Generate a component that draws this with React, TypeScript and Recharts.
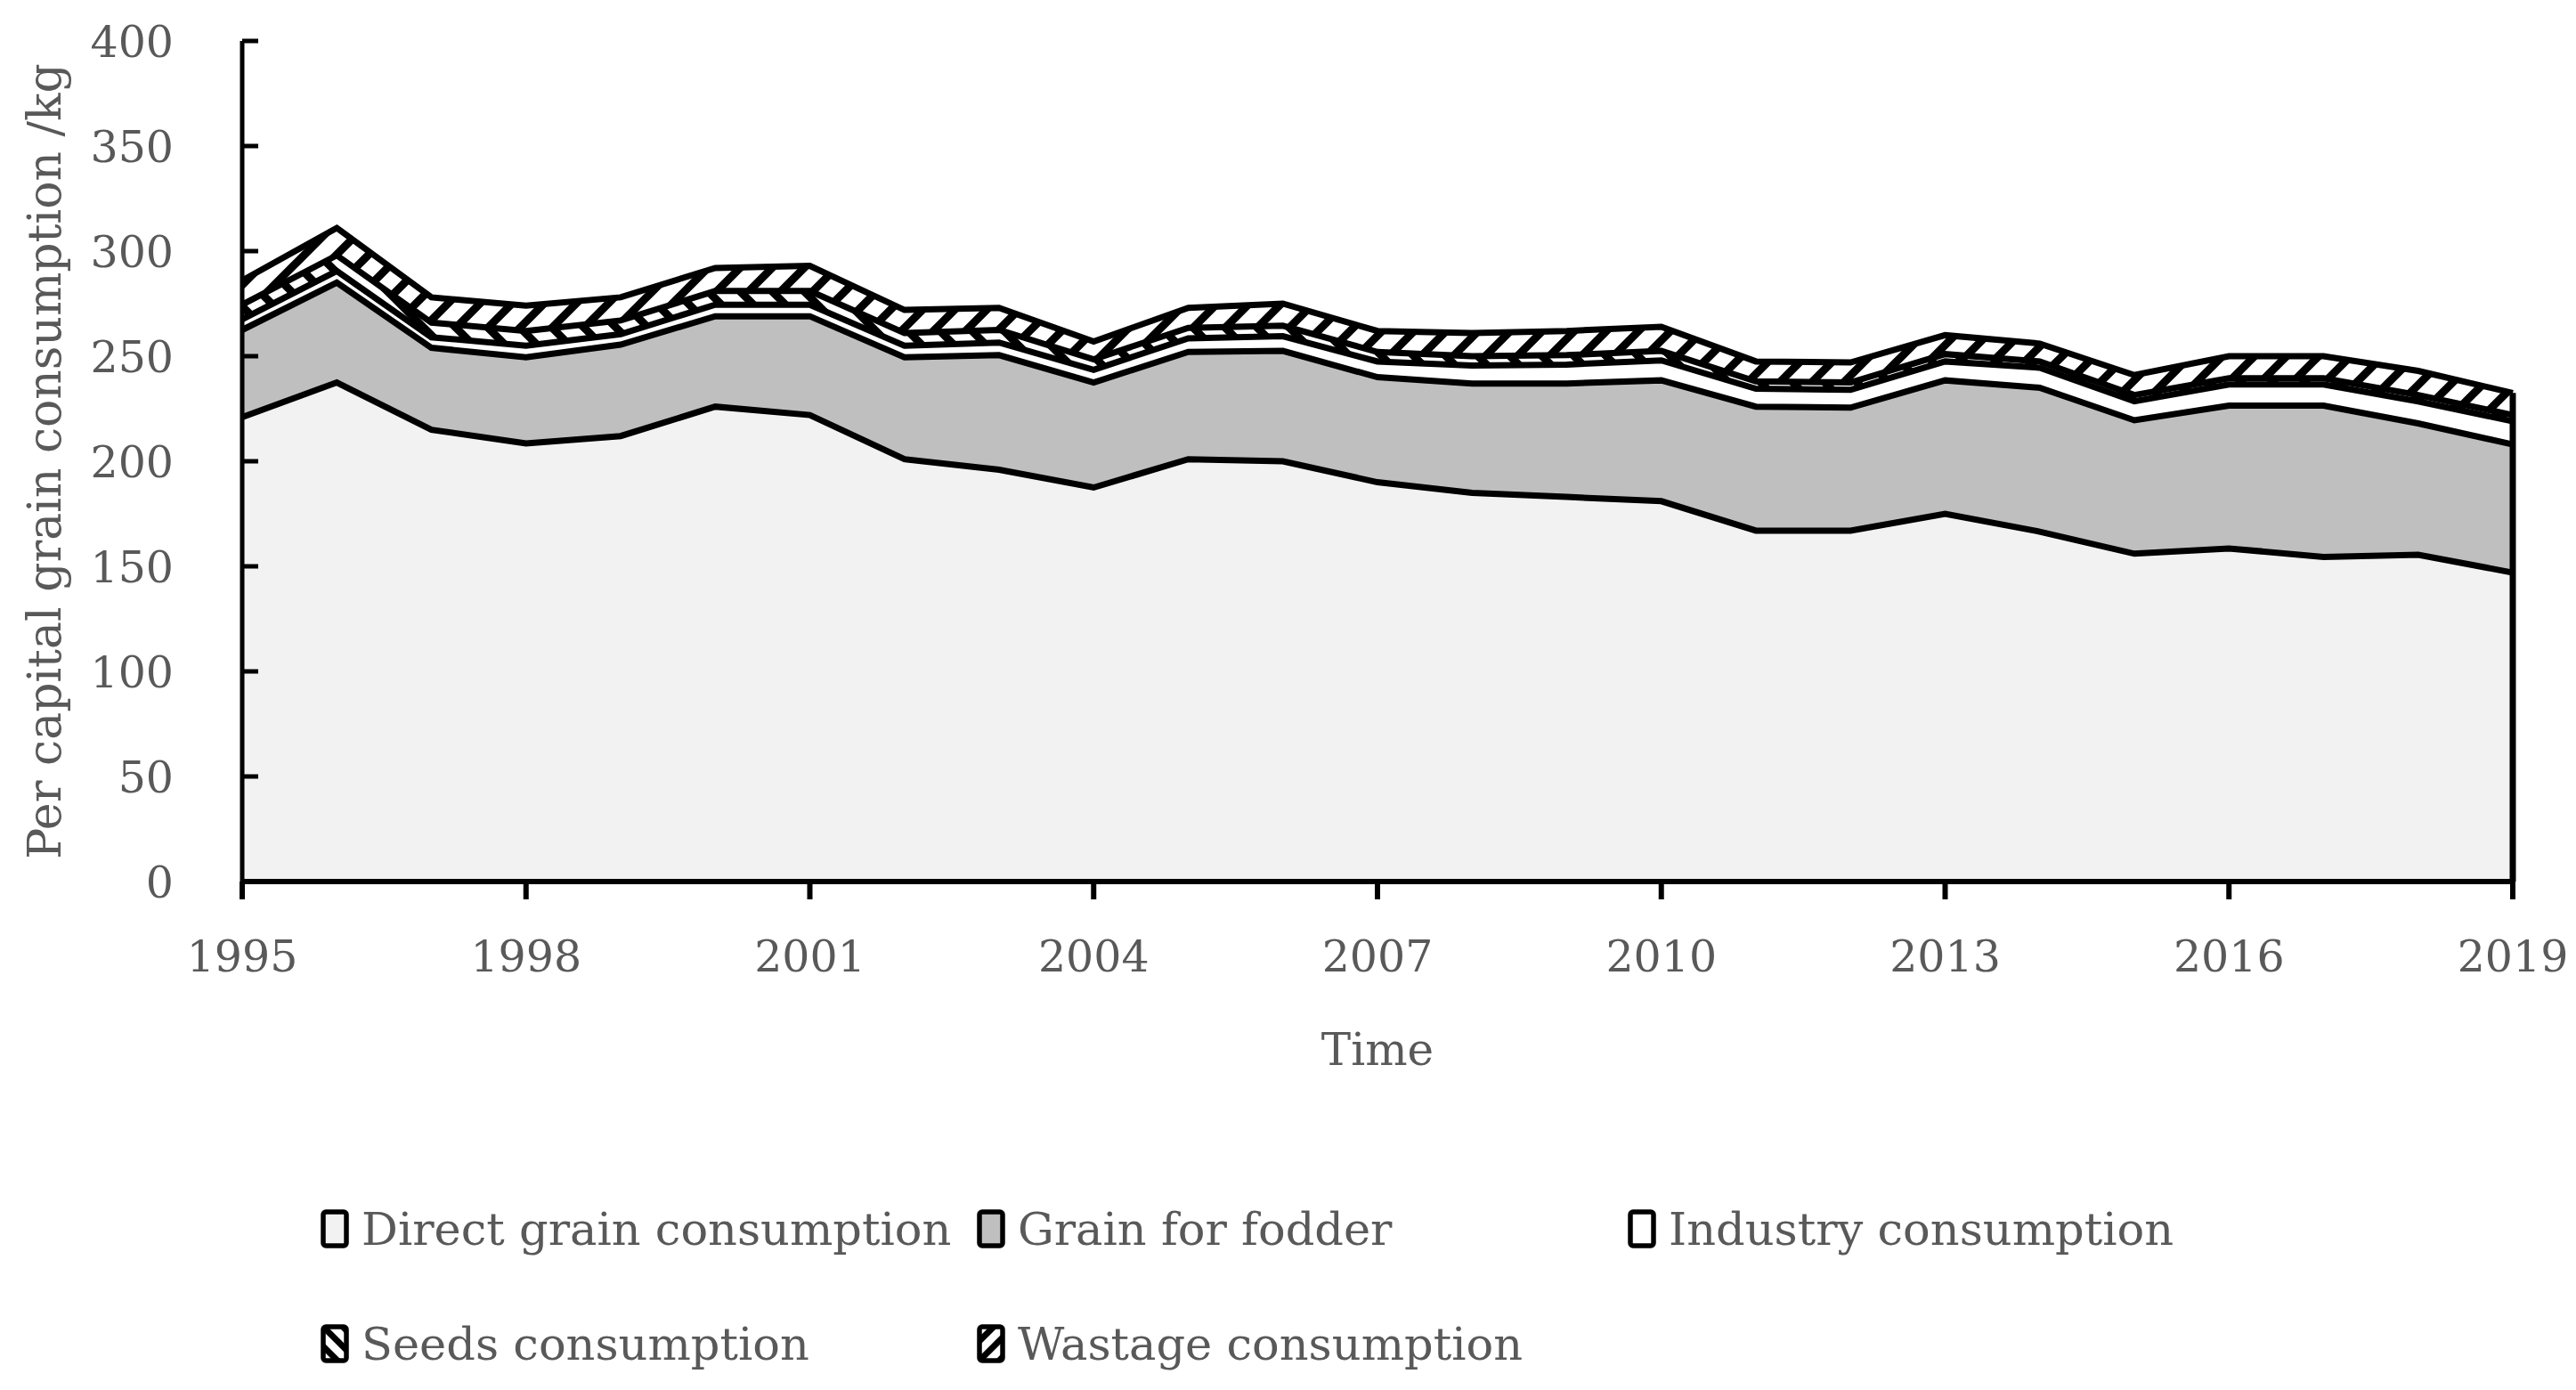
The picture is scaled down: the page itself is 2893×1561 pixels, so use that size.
import React from 'react';
import {
    AreaChart,
    Area,
    XAxis,
    YAxis,
    ReferenceLine,
    Label
} from 'recharts';

// values (kg per capita)
const years = [1995, 1996, 1997, 1998, 1999, 2000, 2001, 2002, 2003, 2004, 2005, 2006, 2007, 2008, 2009, 2010, 2011, 2012, 2013, 2014, 2015, 2016, 2017, 2018, 2019];
const direct = [221, 237.5, 215, 208.5, 212, 226, 222, 201, 196, 187.5, 201, 200, 190, 185, 183, 181, 167, 167, 175, 166.5, 156, 158.5, 154.5, 155.5, 147];
const fodder = [41.5, 47.5, 39, 41, 43.5, 43, 47, 48.5, 54.5, 50, 51, 52.5, 50, 52, 54, 57.5, 59, 58.5, 63.5, 68.5, 63.5, 68, 72, 62.5, 61];
const industry = [5, 5.5, 5, 5.5, 5, 5.5, 5.5, 5.5, 6, 6, 6.5, 7, 7.5, 8.5, 9, 9.5, 8.5, 8.5, 9, 9.5, 9, 10, 10, 10.5, 11];
const seeds = [7, 7.5, 7, 7, 6.5, 6.5, 6.5, 6, 6, 5, 5, 5, 4.5, 4.5, 4.5, 4.5, 3.5, 3.5, 3.5, 3, 3, 3, 3, 3, 3];
const wastage = [11.5, 13, 12, 12, 11, 11, 12, 11, 10.5, 8.5, 9.5, 10.5, 10, 11, 11.5, 11.5, 9.5, 9.5, 9, 8.5, 9.5, 10.5, 10.5, 11.5, 10.5];

const xTicks = [1995, 1998, 2001, 2004, 2007, 2010, 2013, 2016, 2019];
const yTicks = [0, 50, 100, 150, 200, 250, 300, 350, 400];

const seriesKeys = ['direct', 'fodder', 'industry', 'seeds', 'wastage'];
const seriesNames = ['Direct grain consumption', 'Grain for fodder', 'Industry consumption', 'Seeds consumption', 'Wastage consumption'];
const seriesFills = ['#f2f2f2', '#bfbfbf', '#ffffff', 'url(#seedsPat)', 'url(#wastePat)'];
const legendFills = ['#f2f2f2', '#bfbfbf', '#ffffff', 'url(#seedsLeg)', 'url(#wasteLeg)'];

const data = years.map((year, i) => ({
    year,
    direct: direct[i],
    fodder: fodder[i],
    industry: industry[i],
    seeds: seeds[i],
    wastage: wastage[i]
}));

const last = years.length - 1;
const lastTotal = direct[last] + fodder[last] + industry[last] + seeds[last] + wastage[last];

const FONT = '"DejaVu Serif", serif';
const GREY = '#595959';

const YTick = (props: any) => {
    const { x, y, payload } = props;
    const axisX = x + 77;
    return (
        <g>
            <line x1={axisX} x2={axisX + 18} y1={y} y2={y} stroke="#000" strokeWidth={5} />
            <text x={x} y={y} dy="0.36em" textAnchor="end" fill={GREY} fontFamily={FONT} fontSize={49}>
                {payload.value}
            </text>
        </g>
    );
};

// legend positions (columns / rows)
const legendCols = [352, 1089, 1820];
const legendRows = [1372, 1501];

const LegendMarker = ({ fill }: { fill: string }) => (
    <svg width={32} height={44} style={{ display: 'block' }}>
        <defs>
            <pattern id="seedsLeg" patternUnits="userSpaceOnUse" width="22" height="22">
                <rect width="22" height="22" fill="#fff" />
                <path d="M0,0 L22,22 M-6,16 L6,28 M16,-6 L28,6" stroke="#000" strokeWidth="7" />
            </pattern>
            <pattern id="wasteLeg" patternUnits="userSpaceOnUse" width="22" height="22">
                <rect width="22" height="22" fill="#fff" />
                <path d="M0,22 L22,0 M-6,6 L6,-6 M16,28 L28,16" stroke="#000" strokeWidth="7" />
            </pattern>
        </defs>
        <rect x={3} y={3} width={26} height={38} rx={3} fill={fill} stroke="#000" strokeWidth={5.5} />
    </svg>
);

export default function App() {
    return (
        <div style={{ position: 'relative', width: 2877, height: 1545, background: '#fff' }}>
            <AreaChart
                width={2877}
                height={1545}
                data={data}
                margin={{ top: 38, right: 63, left: 0, bottom: 0 }}
            >
                <defs>
                    <pattern id="seedsPat" patternUnits="userSpaceOnUse" width="36" height="36">
                        <rect width="36" height="36" fill="#fff" />
                        <path d="M0,0 L36,36 M-9,27 L9,45 M27,-9 L45,9" stroke="#000" strokeWidth="9" />
                    </pattern>
                    <pattern id="wastePat" patternUnits="userSpaceOnUse" width="36" height="36">
                        <rect width="36" height="36" fill="#fff" />
                        <path d="M0,36 L36,0 M-9,9 L9,-9 M27,45 L45,27" stroke="#000" strokeWidth="9" />
                    </pattern>
                </defs>
                <XAxis
                    dataKey="year"
                    type="number"
                    domain={[1995, 2019]}
                    ticks={xTicks}
                    height={563}
                    axisLine={{ stroke: '#000', strokeWidth: 6 }}
                    tickLine={{ stroke: '#000', strokeWidth: 6 }}
                    tickSize={20}
                    tickMargin={46}
                    tick={{ fill: GREY, fontFamily: FONT, fontSize: 49 }}
                    interval={0}
                >
                    <Label
                        content={(p: any) => {
                            const vb = p.viewBox;
                            return (
                                <text x={vb.x + vb.width / 2} y={vb.y + 206} textAnchor="middle" fill={GREY} fontFamily={FONT} fontSize={50}>
                                    Time
                                </text>
                            );
                        }}
                    />
                </XAxis>
                <YAxis
                    type="number"
                    domain={[0, 400]}
                    ticks={yTicks}
                    width={264}
                    axisLine={{ stroke: '#000', strokeWidth: 5 }}
                    tickLine={false}
                    tickSize={0}
                    tickMargin={77}
                    tick={<YTick />}
                    interval={0}
                >
                    <Label
                        content={(p: any) => {
                            const vb = p.viewBox;
                            const cy = vb.y + vb.height / 2;
                            return (
                                <text x={60} y={cy} transform={`rotate(-90 60 ${cy})`} textAnchor="middle" fill={GREY} fontFamily={FONT} fontSize={52}>
                                    Per capital grain consumption /kg
                                </text>
                            );
                        }}
                    />
                </YAxis>

                {/* filled layers */}
                {seriesKeys.map((k, i) => (
                    <Area
                        key={`fill-${k}`}
                        type="linear"
                        dataKey={k}
                        name={seriesNames[i]}
                        stackId="fill"
                        fill={seriesFills[i]}
                        fillOpacity={1}
                        stroke="none"
                        dot={false}
                        activeDot={false}
                        isAnimationActive={false}
                    />
                ))}

                {/* outlines drawn over every fill */}
                {seriesKeys.map((k) => (
                    <Area
                        key={`line-${k}`}
                        type="linear"
                        dataKey={k}
                        stackId="line"
                        fill="none"
                        stroke="#000"
                        strokeWidth={7}
                        dot={false}
                        activeDot={false}
                        legendType="none"
                        isAnimationActive={false}
                    />
                ))}

                <ReferenceLine
                    segment={[{ x: years[last], y: 0 }, { x: years[last], y: lastTotal }]}
                    stroke="#000"
                    strokeWidth={7}
                    ifOverflow="visible"
                />
            </AreaChart>

            {seriesNames.map((name, i) => (
                <div
                    key={name}
                    style={{
                        position: 'absolute',
                        left: legendCols[i % 3],
                        top: legendRows[Math.floor(i / 3)] - 30,
                        height: 60,
                        display: 'flex',
                        alignItems: 'center',
                        whiteSpace: 'nowrap',
                        fontFamily: FONT,
                        fontSize: 51,
                        color: GREY
                    }}
                >
                    <LegendMarker fill={legendFills[i]} />
                    <span style={{ marginLeft: 14 }}>{name}</span>
                </div>
            ))}
        </div>
    );
}
